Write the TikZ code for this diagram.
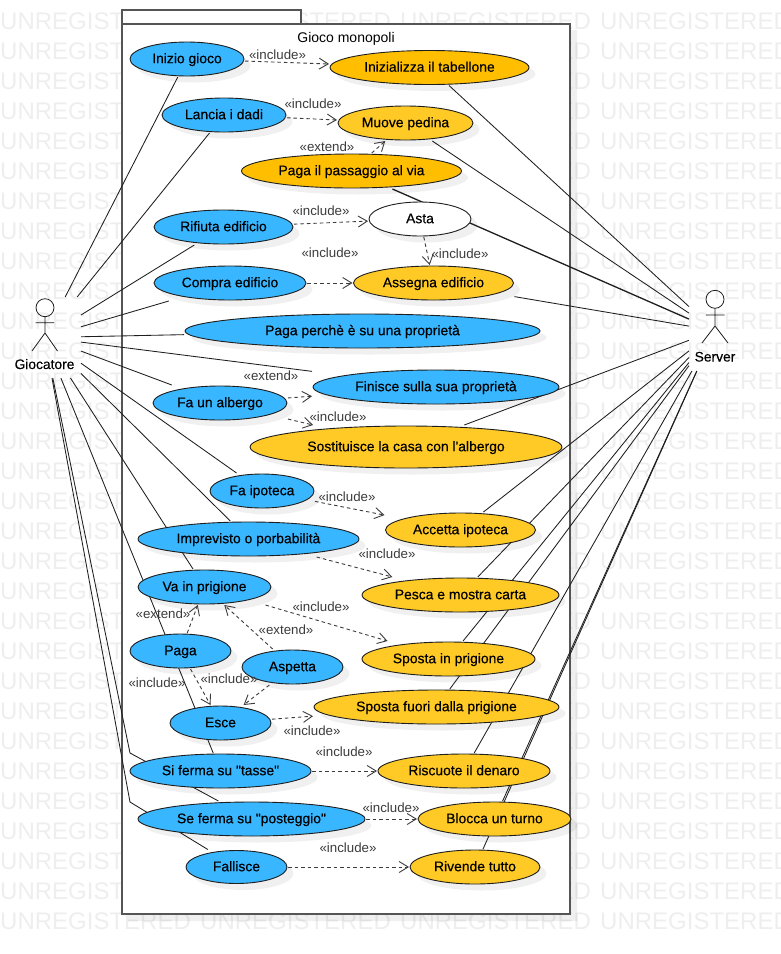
\documentclass[tikz,border=0pt]{standalone}
\usepackage{fontspec}
\setmainfont{Liberation Sans}
\newfontfamily\ucfont[FakeBold=0.25]{Liberation Sans}
\usetikzlibrary{shapes.geometric,shadows,arrows.meta}
\pgfdeclarelayer{wmlayer}
\pgfdeclarelayer{lineslayer}
\pgfsetlayers{wmlayer,lineslayer,main}
\definecolor{ucblue}{HTML}{38B6FF}
\definecolor{ucgold}{HTML}{FFBF00}
\definecolor{ucamber}{HTML}{FFC926}
\definecolor{ink}{HTML}{1E1E1E}
\definecolor{framegrey}{HTML}{555555}
\definecolor{wmgrey}{HTML}{EEEEEE}
\definecolor{labgrey}{HTML}{3C3C3C}
\tikzset{
  ucbox/.style={rectangle,inner sep=0pt,outer sep=0pt},
  ucell/.style={ellipse,draw=ink,line width=0.9pt,inner sep=0pt,outer sep=0pt,text=black,
    text height=8.4pt,text depth=0pt,
    font=\ucfont\fontsize{13.9}{15}\selectfont,
    drop shadow={shadow xshift=6.5pt,shadow yshift=-6.5pt,fill=black,opacity=0.06}},
  actorbox/.style={rectangle,inner sep=0pt,outer sep=0pt},
  assoc/.style={draw=ink,line width=0.85pt},
  dep/.style={draw=labgrey,line width=0.9pt,dash pattern=on 3.5pt off 3pt,-{Straight Barb[length=9pt,width=11pt]}},
  deplabel/.style={text=labgrey,inner sep=0pt,font=\fontsize{13.3}{15}\selectfont},
  actorlabel/.style={text=black,inner sep=0pt,font=\ucfont\fontsize{13.8}{15}\selectfont},
  stick/.style={draw=ink,line width=0.8pt},
  wmark/.style={text=wmgrey,inner sep=0pt,anchor=west,font=\fontsize{24}{26}\selectfont},
  framebox/.style={draw=framegrey,line width=1.4pt,fill=white},
}
\newcommand{\usecase}[7]{%
  \node[ucbox,minimum width=#4*2pt+2pt,minimum height=#5*2pt+2pt] (#1) at (#2,#3) {};
  \node[ucell,fill=#6,minimum width=#4*2pt,minimum height=#5*2pt] (#1-e) at (#2,#3) {#7};}
\begin{document}
\begin{tikzpicture}[x=1pt,y=-1pt]
\useasboundingbox (0,0) rectangle (780,954);
\begin{pgfonlayer}{wmlayer}
  \clip (0,0) rectangle (780,954);
  \foreach \r in {0,...,30}{
    \foreach \c in {0,200,400,600}{
      \node[wmark] (wm-\r-\c) at (\c,21+30*\r) {UNREGISTERED};
    }
  }
  \draw[framebox] (122,10) rectangle (301,24);
  \fill[black,opacity=0.06] (570,30) rectangle (577,921) (128,914) rectangle (570,921);
  \draw[framebox] (122,24) rectangle (570,914);
  \node[inner sep=0pt,text=black,text height=10pt,text depth=0pt,font=\fontsize{14}{15}\selectfont] (systemtitle) at (346,37) {Gioco monopoli};
\end{pgfonlayer}

% actors
\node[actorbox,minimum width=73pt,minimum height=81pt] (giocatore) at (44.5,337.5) {};
\node[actorbox,minimum width=52pt,minimum height=81pt] (server) at (715,330.5) {};
\draw[stick] (45,307.7) circle (9pt);
\draw[stick] (45,316.7) -- (45,333) (35.5,322.7) -- (54,322.7) (32,351) -- (45,333) -- (57.5,351);
\node[actorlabel,text height=10pt,text depth=0pt] (giocatorelabel) at (44.5,364) {Giocatore};
\draw[stick] (715,299.3) circle (9pt);
\draw[stick] (715,308.3) -- (715,326) (706,315) -- (724.5,315) (702,343) -- (715,326) -- (728,343);
\node[actorlabel,text height=10pt,text depth=0pt] (serverlabel) at (715,356.5) {Server};

% use cases
\usecase{inizio}{187}{59}{57}{17}{ucblue}{Inizio gioco}
\usecase{lancia}{224}{115}{62}{17}{ucblue}{Lancia i dadi}
\usecase{inizializza}{429.5}{67.5}{99.5}{17}{ucgold}{Inizializza il tabellone}
\usecase{muove}{405.5}{123}{67.5}{17}{ucamber}{Muove pedina}
\usecase{passaggio}{351.5}{171}{110}{17}{ucgold}{Paga il passaggio al via}
\usecase{rifiuta}{223.5}{227}{69.5}{17}{ucblue}{Rifiuta edificio}
\usecase{asta}{420}{219}{51}{17}{white}{Asta}
\usecase{compra}{230}{283}{76}{17}{ucblue}{Compra edificio}
\usecase{assegna}{433.5}{283}{80}{17}{ucamber}{Assegna edificio}
\usecase{pagaprop}{362.5}{331}{177.5}{17}{ucblue}{Paga perchè è su una proprietà}
\usecase{finisce}{436}{387}{123}{17}{ucblue}{Finisce sulla sua proprietà}
\usecase{albergo}{220}{403}{67}{17}{ucblue}{Fa un albergo}
\usecase{sostituisce}{406}{447}{156}{21}{ucamber}{Sostituisce la casa con l'albergo}
\usecase{ipoteca}{262}{491}{52}{17}{ucblue}{Fa ipoteca}
\usecase{accetta}{460.5}{530}{75}{17}{ucamber}{Accetta ipoteca}
\usecase{imprevisto}{248.5}{539}{110.5}{17}{ucblue}{Imprevisto o porbabilità}
\usecase{pesca}{460.5}{595}{98.5}{17}{ucamber}{Pesca e mostra carta}
\usecase{prigione}{204.5}{587}{66.5}{17}{ucblue}{Va in prigione}
\usecase{paga}{180.5}{651}{50.5}{17}{ucblue}{Paga}
\usecase{aspetta}{292.5}{667}{50.5}{17}{ucblue}{Aspetta}
\usecase{esce}{220.5}{723}{50.5}{17}{ucblue}{Esce}
\usecase{spostain}{448.5}{659}{86.5}{17}{ucamber}{Sposta in prigione}
\usecase{spostafuori}{436.5}{707}{122.5}{17}{ucamber}{Sposta fuori dalla prigione}
\usecase{tasse}{220.5}{771}{90.5}{17}{ucblue}{Si ferma su "tasse"}
\usecase{riscuote}{464}{771}{86}{17}{ucamber}{Riscuote il denaro}
\usecase{posteggio}{251.5}{819}{113.5}{17}{ucblue}{Se ferma su "posteggio"}
\usecase{blocca}{494.5}{819}{76.5}{17}{ucamber}{Blocca un turno}
\usecase{fallisce}{236.5}{867}{50.5}{16.5}{ucblue}{Fallisce}
\usecase{rivende}{475}{867}{65}{17}{ucamber}{Rivende tutto}

\coordinate (bendposteggio) at (130,753);
\coordinate (bendfallisce) at (130,802);

% associations, under the use cases
\begin{pgfonlayer}{lineslayer}
  \foreach \t in {inizio,lancia,rifiuta,compra,pagaprop,finisce,albergo,ipoteca,imprevisto,prigione,tasse}{
    \draw[assoc] (giocatore) -- (\t);
  }
  \draw[assoc] (giocatore) -- (bendposteggio) -- (posteggio);
  \draw[assoc] (giocatore) -- (bendfallisce) -- (fallisce);
  \foreach \t in {inizializza,muove,assegna,sostituisce,accetta,pesca,spostain,spostafuori,riscuote,blocca,rivende}{
    \draw[assoc] (server) -- (\t);
  }
  \draw[assoc,line width=1.3pt] (server) -- (passaggio);
\end{pgfonlayer}

% dependencies
\draw[dep] (inizio) -- (inizializza);
\draw[dep] (lancia) -- (muove);
\draw[dep] (passaggio) -- (muove);
\draw[dep] (rifiuta) -- (asta);
\draw[dep] (compra) -- (assegna);
\draw[dep] (asta) -- (assegna);
\draw[dep] (albergo) -- (finisce);
\draw[dep] (albergo) -- (sostituisce);
\draw[dep] (ipoteca) -- (accetta);
\draw[dep] (imprevisto) -- (pesca);
\draw[dep] (prigione) -- (spostain);
\draw[dep] (paga) -- (prigione);
\draw[dep] (aspetta) -- (prigione);
\draw[dep] (paga) -- (esce);
\draw[dep] (aspetta) -- (esce);
\draw[dep] (esce) -- (spostafuori);
\draw[dep] (tasse) -- (riscuote);
\draw[dep] (posteggio) -- (blocca);
\draw[dep] (fallisce) -- (rivende);

% dependency labels
\node[deplabel] (l1) at (277.5,55) {«include»};
\node[deplabel] (l2) at (313,104) {«include»};
\node[deplabel] (l3) at (327,147) {«extend»};
\node[deplabel] (l4) at (321,211) {«include»};
\node[deplabel] (l5) at (330,253) {«include»};
\node[deplabel] (l6) at (460,253.5) {«include»};
\node[deplabel] (l7) at (271,376) {«extend»};
\node[deplabel] (l8) at (338,417) {«include»};
\node[deplabel] (l9) at (347,497) {«include»};
\node[deplabel] (l10) at (387,554) {«include»};
\node[deplabel] (l11) at (321,607) {«include»};
\node[deplabel] (l12) at (163,614) {«extend»};
\node[deplabel] (l13) at (286,630) {«extend»};
\node[deplabel] (l14) at (157,683) {«include»};
\node[deplabel] (l15) at (229,679) {«include»};
\node[deplabel] (l16) at (312,731) {«include»};
\node[deplabel] (l17) at (344,752) {«include»};
\node[deplabel] (l18) at (391,808) {«include»};
\node[deplabel] (l19) at (348,848) {«include»};
\end{tikzpicture}
\end{document}
